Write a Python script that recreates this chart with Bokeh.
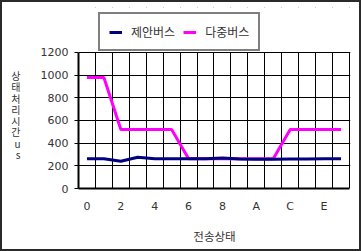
from bokeh.plotting import figure
from bokeh.models import Range1d, FixedTicker, Legend, LegendItem, BoxAnnotation
from bokeh.layouts import column
from bokeh.embed import file_html
from bokeh.resources import INLINE

cats = ["0", "1", "2", "3", "4", "5", "6", "7", "8", "9", "A", "B", "C", "D", "E", "F"]
proposed = [262, 262, 240, 276, 262, 262, 262, 262, 270, 260, 258, 258, 260, 260, 262, 262]
multi = [980, 980, 520, 520, 520, 520, 262, 262, 262, 262, 262, 262, 520, 520, 520, 520]
y_ticks = [0, 200, 400, 600, 800, 1000, 1200]
shown_ticks = cats[::2]

xs = list(range(len(cats)))
y_max = y_ticks[-1]

# frame extends above the plot area so that the legend (which sits over the top edge) is not clipped
p = figure(width=357, height=247, output_backend="svg", toolbar_location=None,
           x_range=Range1d(-0.5, len(cats) - 0.44), y_range=Range1d(0, 1597),
           min_border_left=76, min_border_right=9, min_border_top=5, min_border_bottom=61)
p.background_fill_color = "white"
p.border_fill_color = "white"
p.outline_line_color = None

r_mag = p.line(xs, multi, line_color="#FF00FF", line_width=3)
r_nav = p.line(xs, proposed, line_color="#000080", line_width=3)

# grids
p.xgrid.ticker = FixedTicker(ticks=[i - 0.5 for i in range(len(cats) + 1)])
p.ygrid.ticker = FixedTicker(ticks=y_ticks)
for g in (p.xgrid[0], p.ygrid[0]):
    g.grid_line_color = "black"
    g.grid_line_width = 1

# blank out the part of the frame above the plot area
p.add_layout(BoxAnnotation(bottom=y_max + 5, fill_color="white", fill_alpha=1,
                           line_color=None, level="annotation"))

text_color = "#333333"

# x axis
xa = p.xaxis[0]
xa.bounds = (-0.5, len(cats) - 0.5)
xa.ticker = FixedTicker(ticks=[cats.index(c) for c in shown_ticks])
xa.major_label_overrides = {cats.index(c): c for c in shown_ticks}
xa.major_tick_out = 0
xa.major_tick_in = 0
xa.minor_tick_line_color = None
xa.axis_line_color = "black"
xa.axis_line_width = 2
xa.major_label_standoff = 11
xa.major_label_text_font = "DejaVu Sans"
xa.major_label_text_font_size = "11px"
xa.major_label_text_color = text_color
xa.axis_label = "전송상태"
xa.axis_label_text_font = "Noto Sans CJK KR"
xa.axis_label_text_font_size = "11.5px"
xa.axis_label_text_font_style = "normal"
xa.axis_label_text_color = text_color
xa.axis_label_standoff = 12

# y axis
ya = p.yaxis[0]
ya.bounds = (0, y_max)
ya.ticker = FixedTicker(ticks=y_ticks)
ya.major_tick_out = 4
ya.major_tick_in = 0
ya.major_tick_line_color = "black"
ya.minor_tick_line_color = None
ya.axis_line_color = "black"
ya.axis_line_width = 2
ya.major_label_standoff = 6
ya.major_label_text_font = "DejaVu Sans"
ya.major_label_text_font_size = "11px"
ya.major_label_text_color = text_color
ya.axis_label = "\n\n\n" + "\n".join("상태처리시간us")
ya.axis_label_orientation = "horizontal"
ya.axis_label_text_font = "Noto Sans CJK KR"
ya.axis_label_text_font_size = "10px"
ya.axis_label_text_font_style = "normal"
ya.axis_label_text_color = text_color
ya.axis_label_text_line_height = 0.75
ya.axis_label_standoff = 17

legend = Legend(items=[LegendItem(label="제안버스", renderers=[r_nav]),
                       LegendItem(label="다중버스", renderers=[r_mag])],
                orientation="horizontal", location=(20, 137))
legend.border_line_color = "black"
legend.border_line_width = 2
legend.background_fill_color = "white"
legend.background_fill_alpha = 1
legend.glyph_width = 13
legend.glyph_height = 14
legend.label_height = 14
legend.label_standoff = 9
legend.spacing = 8
legend.padding = 9
legend.margin = 0
legend.label_text_font = "Noto Sans CJK KR"
legend.label_text_font_size = "12px"
legend.label_text_color = text_color
p.add_layout(legend, "center")

layout = column(p, styles={"border": "2px solid #2a2a2a", "box-sizing": "content-box"})

open("out.html", "w").write(file_html(layout, INLINE))
